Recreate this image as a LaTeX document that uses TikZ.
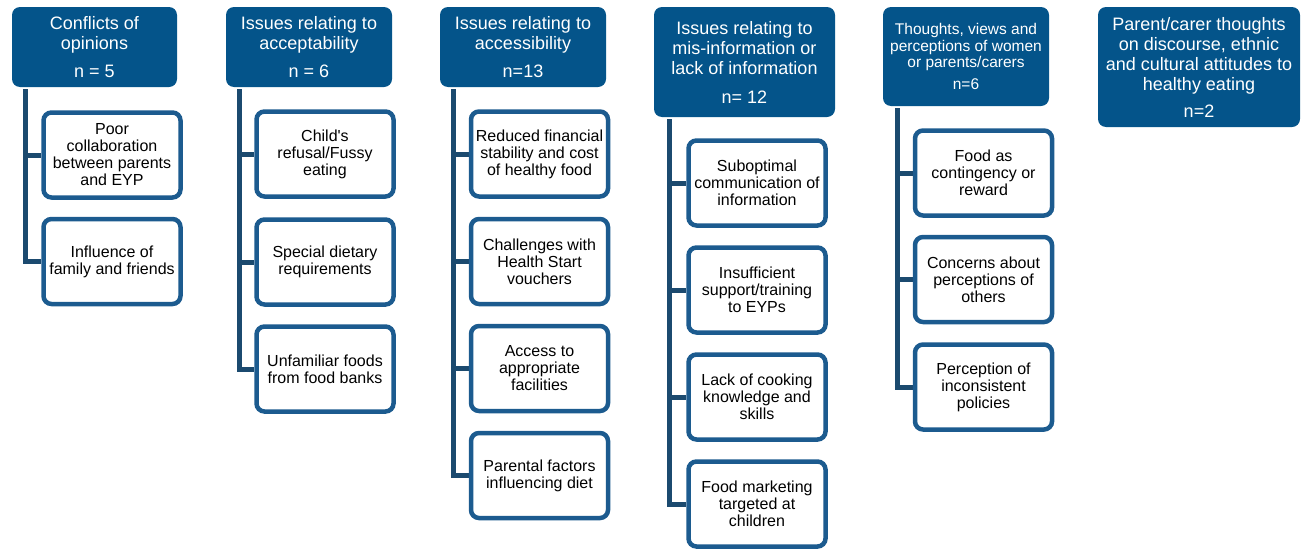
\documentclass[tikz,border=0pt]{standalone}
\usepackage{fontspec}
\setmainfont{Liberation Sans}[Ligatures=TeXOff]
\usetikzlibrary{backgrounds}
\definecolor{headBlue}{HTML}{04548A}
\definecolor{boxBlue}{HTML}{1C5B8F}
\definecolor{lineBlue}{HTML}{1B4A6F}

\begin{document}
\begin{tikzpicture}[x=1pt,y=-1pt,
  head/.style={fill=headBlue,text=white,rounded corners=8pt,align=center,inner sep=0pt,
    font=\fontsize{18}{20}\selectfont},
  item/.style={draw=boxBlue,line width=4.5pt,fill=white,rounded corners=8pt,
    minimum width=137pt,minimum height=85pt,align=center,inner sep=0pt,
    font=\fontsize{16}{17}\selectfont},
  link/.style={draw=lineBlue,line width=5pt}]
\useasboundingbox (0,0) rectangle (1304,549);
% Conflicts of opinions
\node[head,minimum width=165pt,minimum height=80pt] (h1) at (94.5,47)
  {Conflicts of\\opinions\\[8pt]n = 5};
\node[item] (c11) at (112,155) {Poor\\collaboration\\between parents\\and EYP};
\node[item] (c12) at (112,261.5) {Influence of\\family and friends};
% Acceptability
\node[head,minimum width=166pt,minimum height=80pt] (h2) at (309,47)
  {Issues relating to\\acceptability\\[8pt]n = 6};
\node[item] (c21) at (325,154) {Child's\\refusal/Fussy\\eating};
\node[item] (c22) at (325,262) {Special dietary\\requirements};
\node[item] (c23) at (325,369) {Unfamiliar foods\\from food banks};
% Accessibility
\node[head,minimum width=166pt,minimum height=80pt] (h3) at (523,47)
  {Issues relating to\\accessibility\\[8pt]n=13};
\node[item] (c31) at (539.5,154) {Reduced financial\\stability and cost\\of healthy food};
\node[item] (c32) at (539.5,261.5) {Challenges with\\Health Start\\vouchers};
\node[item] (c33) at (539.5,368.5) {Access to\\appropriate\\facilities};
\node[item] (c34) at (539.5,475.5) {Parental factors\\influencing diet};
% Mis-information
\node[head,minimum width=181pt,minimum height=110pt] (h4) at (744.5,62)
  {Issues relating to\\mis-information or\\lack of information\\[9pt]n= 12};
\node[item] (c41) at (757,183) {Suboptimal\\communication of\\information};
\node[item] (c42) at (757,290) {Insufficient\\support/training\\to EYPs};
\node[item] (c43) at (757,397) {Lack of cooking\\knowledge and\\skills};
\node[item] (c44) at (757,504) {Food marketing\\targeted at\\children};
% Thoughts, views and perceptions
\node[head,minimum width=166pt,minimum height=99pt,font=\fontsize{15.5}{16.5}\selectfont] (h5) at (966,56.5)
  {Thoughts, views and\\perceptions of women\\or parents/carers\\[5pt]n=6};
\node[item] (c51) at (983.5,173) {Food as\\contingency or\\reward};
\node[item] (c52) at (983.5,279.5) {Concerns about\\perceptions of\\others};
\node[item] (c53) at (983.5,387) {Perception of\\inconsistent\\policies};
% Discourse, ethnic and cultural attitudes
\node[head,minimum width=202pt,minimum height=120pt] (h6) at (1199,67)
  {Parent/carer thoughts\\on discourse, ethnic\\and cultural attitudes to\\healthy eating\\[7pt]n=2};
% connectors
\coordinate (t1) at ([xshift=14pt,yshift=-2pt]h1.south west);
\coordinate (t2) at ([xshift=14pt,yshift=-2pt]h2.south west);
\coordinate (t3) at ([xshift=14pt,yshift=-2pt]h3.south west);
\coordinate (t4) at ([xshift=16pt,yshift=-2pt]h4.south west);
\coordinate (t5) at ([xshift=15pt,yshift=-2pt]h5.south west);
\begin{scope}[on background layer]
\draw[link] (t1) |- (c12.west);
\draw[link] (t1) |- (c11.west);
\draw[link] (t2) |- (c23.west);
\draw[link] (t2) |- (c22.west);
\draw[link] (t2) |- (c21.west);
\draw[link] (t3) |- (c34.west);
\draw[link] (t3) |- (c33.west);
\draw[link] (t3) |- (c32.west);
\draw[link] (t3) |- (c31.west);
\draw[link] (t4) |- (c44.west);
\draw[link] (t4) |- (c43.west);
\draw[link] (t4) |- (c42.west);
\draw[link] (t4) |- (c41.west);
\draw[link] (t5) |- (c53.west);
\draw[link] (t5) |- (c52.west);
\draw[link] (t5) |- (c51.west);
\end{scope}
\end{tikzpicture}
\end{document}
